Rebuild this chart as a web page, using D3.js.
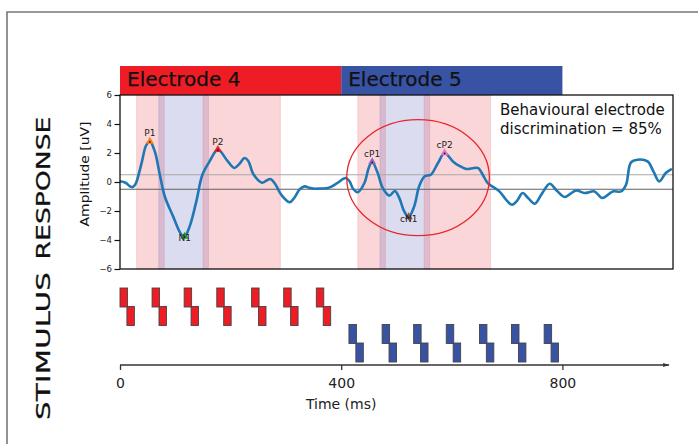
<!DOCTYPE html>
<html>
<head>
<meta charset="utf-8">
<script src="https://cdn.jsdelivr.net/npm/d3@7"></script>
<style>
  html, body { margin: 0; padding: 0; background: #fff; }
  svg { display: block; font-family: "DejaVu Sans", sans-serif; }
</style>
</head>
<body>
<svg id="chart" width="698" height="444"></svg>
<script>
// ---------- data ----------
const electrodes = ["Electrode 4", "Electrode 5"];
const electrodeStart = [0, 400];
const electrodeEnd = [400, 800];

const windowStart = [30, 70, 150, 430, 470, 550];
const windowEnd   = [80, 160, 290, 480, 560, 670];
const windowType  = ["P", "N", "P", "P", "N", "P"];

const waveTimes = [0, 10, 18, 23, 28, 39, 47, 54, 63, 72, 81, 96, 111, 117, 126, 138, 149, 162, 177, 195, 207, 216, 225, 232, 241, 257, 265, 272, 280, 292, 307, 315, 325, 334, 342, 350, 362, 376, 392, 408, 415, 422, 430, 442, 450, 456, 466, 475, 487, 497, 505, 514, 522, 532, 541, 551, 562, 575, 587, 602, 612, 626, 640, 648, 656, 665, 686, 700, 709, 718, 728, 738, 750, 763, 777, 790, 804, 815, 825, 840, 858, 872, 891, 906, 915, 924, 936, 954, 965, 975, 987, 998];
const waveAmps  = [0.05, -0.05, -0.3, -0.35, -0.15, 1.3, 2.5, 2.8, 2.1, 0.5, -1.0, -2.37, -3.63, -3.75, -3.06, -1.34, 0.5, 1.42, 2.23, 1.42, 0.97, 1.25, 1.65, 1.45, 0.55, -0.05, 0.1, 0.2, -0.1, -0.9, -1.4, -1.1, -0.5, -0.3, -0.4, -0.46, -0.45, -0.42, -0.1, 0.28, 0.05, -0.5, -0.7, -0.07, 1.0, 1.38, 0.62, -0.41, -0.94, -0.62, -1.1, -2.03, -2.41, -1.68, -0.3, 0.39, 0.5, 1.31, 2.0, 1.42, 1.15, 0.9, 0.97, 0.95, 0.5, -0.07, -0.65, -1.3, -1.57, -1.3, -0.76, -1.1, -1.5, -0.8, -0.12, -0.6, -1.03, -0.8, -0.58, -0.76, -0.65, -1.1, -0.65, -0.65, -0.2, 1.35, 1.54, 1.42, 0.7, 0.04, 0.62, 0.9];

const peakLabels = ["P1", "N1", "P2", "cP1", "cN1", "cP2"];
const peakTimes  = [54, 117, 177, 456, 522, 587];
const peakAmps   = [2.8, -3.75, 2.23, 1.38, -2.41, 2.0];
const peakColors = ["#ff7f0e", "#2ca02c", "#d62728", "#9467bd", "#8c564b", "#e377c2"];

const thresholds = [0.5, -0.5];

const stim4Times = [0, 58, 116, 175, 238, 296, 355];
const stim5Times = [414, 474, 531, 590, 650, 708, 767];

const yTicks = [-6, -4, -2, 0, 2, 4, 6];
const xTicks = [0, 400, 800];

const ellipseCenter = [539, 0.3];
const ellipseRadius = [129, 4.0];

const noteLines = ["Behavioural electrode", "discrimination = 85%"];

// ---------- layout ----------
const svg = d3.select("#chart");
const x = d3.scaleLinear().domain([0, 1000]).range([120, 673]);
const y = d3.scaleLinear().domain([-6, 6]).range([269, 95]);

// outer frame
svg.append("path")
  .attr("d", "M7,444 L7,12 L698,12")
  .attr("fill", "none").attr("stroke", "#777").attr("stroke-width", 1.6);

// electrode bars
const elecColors = ["#ee1c25", "#3953a4"];
electrodes.forEach((name, i) => {
  svg.append("rect")
    .attr("x", x(electrodeStart[i])).attr("y", 66)
    .attr("width", x(electrodeEnd[i]) - x(electrodeStart[i])).attr("height", 29)
    .attr("fill", elecColors[i]);
  svg.append("text")
    .attr("x", x(electrodeStart[i]) + 7).attr("y", 86)
    .attr("font-size", 20).attr("fill", "#111")
    .attr("stroke", "#111").attr("stroke-width", 0.25).text(name);
});

// windows
const plot = svg.append("g");
windowStart.forEach((s, i) => {
  const isN = windowType[i] === "N";
  plot.append("rect")
    .attr("x", x(s)).attr("y", y(6))
    .attr("width", x(windowEnd[i]) - x(s)).attr("height", y(-6) - y(6))
    .attr("fill", isN ? "rgb(60,60,170)" : "rgb(232,50,62)")
    .attr("fill-opacity", isN ? 0.18 : 0.2)
    .attr("stroke", isN ? "rgb(60,60,170)" : "rgb(232,50,62)")
    .attr("stroke-opacity", isN ? 0.12 : 0.15)
    .attr("stroke-width", 1);
});

// threshold lines
thresholds.forEach((t, i) => {
  plot.append("line")
    .attr("x1", x(0)).attr("x2", x(1000))
    .attr("y1", y(t)).attr("y2", y(t))
    .attr("stroke", i === 0 ? "#a8a8a8" : "#606060").attr("stroke-width", 1.2);
});

// waveform
const wave = waveTimes.map((t, i) => [t, waveAmps[i]]);
plot.append("path")
  .datum(wave)
  .attr("fill", "none").attr("stroke", "#1f77b4").attr("stroke-width", 2.6)
  .attr("stroke-linejoin", "round")
  .attr("d", d3.line().x(d => x(d[0])).y(d => y(d[1])).curve(d3.curveCatmullRom.alpha(0.5)));

// ellipse
plot.append("ellipse")
  .attr("cx", x(ellipseCenter[0])).attr("cy", y(ellipseCenter[1]))
  .attr("rx", x(ellipseCenter[0] + ellipseRadius[0]) - x(ellipseCenter[0]))
  .attr("ry", y(ellipseCenter[1] - ellipseRadius[1]) - y(ellipseCenter[1]))
  .attr("fill", "none").attr("stroke", "#e8262b").attr("stroke-width", 1.3);

// peaks
const tri = d3.symbol().type(d3.symbolTriangle).size(28);
peakLabels.forEach((lab, i) => {
  const px = x(peakTimes[i]), py = y(peakAmps[i]);
  plot.append("path").attr("d", tri()).attr("transform", `translate(${px},${py})`)
    .attr("fill", peakColors[i]);
  plot.append("circle").attr("cx", px).attr("cy", py + 0.5).attr("r", 0.9).attr("fill", "#222");
  const neg = peakAmps[i] < 0;
  plot.append("text")
    .attr("x", px).attr("y", neg ? py + 5 : py - 5)
    .attr("text-anchor", "middle").attr("font-size", 9).attr("fill", "#222")
    .text(lab);
});

// spines
svg.append("rect")
  .attr("x", x(0)).attr("y", y(6)).attr("width", x(1000) - x(0)).attr("height", y(-6) - y(6))
  .attr("fill", "none").attr("stroke", "#111").attr("stroke-width", 1.3);

// y axis
const yAxis = svg.append("g").attr("transform", `translate(${x(0)},0)`)
  .call(d3.axisLeft(y).tickValues(yTicks).tickSize(5.5).tickPadding(2.5));
yAxis.select(".domain").remove();
yAxis.selectAll(".tick line").attr("stroke", "#111").attr("stroke-width", 1.2);
yAxis.selectAll(".tick text").attr("font-size", 8.5).attr("fill", "#222")
  .attr("font-family", "DejaVu Sans");

// stretched vertical text helper (glyphs stretched along reading direction)
function verticalText(label, bx, cy, size, targetLen, sw) {
  const t = svg.append("text")
    .attr("text-anchor", "middle").attr("font-size", size).attr("fill", "#111")
    .attr("stroke", "#111").attr("stroke-width", sw)
    .text(label);
  const natural = t.node().getComputedTextLength();
  const s = targetLen / natural;
  t.attr("transform", `translate(${bx},${cy}) rotate(-90) scale(${s},1)`);
}
verticalText("Amplitude [uV]", 88.5, 174, 11.5, 105, 0);
verticalText("RESPONSE", 50, 188, 19, 143, 0.25);
verticalText("STIMULUS", 50, 346, 19, 148, 0.25);

// note text
noteLines.forEach((ln, i) => {
  svg.append("text").attr("x", 500).attr("y", 115 + i * 19)
    .attr("font-size", 15).attr("fill", "#111").text(ln);
});

// stimulus pulses
const stimW = 13.5;      // ms
const rectH = 19;
const rows = [{times: stim4Times, top: 288, color: "#ee1c25"},
              {times: stim5Times, top: 324.5, color: "#3953a4"}];
rows.forEach(r => {
  r.times.forEach(t => {
    svg.append("rect")
      .attr("x", x(t)).attr("y", r.top)
      .attr("width", x(t + stimW) - x(t)).attr("height", rectH)
      .attr("fill", r.color).attr("stroke", "#444").attr("stroke-width", 0.9);
    svg.append("rect")
      .attr("x", x(t + 12.5)).attr("y", r.top + rectH - 0.5)
      .attr("width", x(t + stimW) - x(t)).attr("height", rectH)
      .attr("fill", r.color).attr("stroke", "#444").attr("stroke-width", 0.9);
  });
});

// time axis with arrow
const axisY = 365;
svg.append("defs").append("marker")
  .attr("id", "arrow").attr("viewBox", "0 0 10 10").attr("refX", 10).attr("refY", 5)
  .attr("markerWidth", 10).attr("markerHeight", 6).attr("markerUnits", "userSpaceOnUse")
  .attr("orient", "auto")
  .append("path").attr("d", "M0,1.5 L10,5 L0,8.5 Z").attr("fill", "#333");
const xAxis = svg.append("g").attr("transform", `translate(0,${axisY})`)
  .call(d3.axisBottom(x).tickValues(xTicks).tickSize(5).tickPadding(8).tickFormat(d3.format("d")));
xAxis.select(".domain").remove();
xAxis.selectAll(".tick line").attr("stroke", "#333").attr("stroke-width", 1.3);
xAxis.selectAll(".tick text").attr("font-size", 14).attr("fill", "#222")
  .attr("font-family", "DejaVu Sans");
svg.append("line")
  .attr("x1", x(0)).attr("x2", x(993)).attr("y1", axisY).attr("y2", axisY)
  .attr("stroke", "#333").attr("stroke-width", 1.3).attr("marker-end", "url(#arrow)");
svg.append("text")
  .attr("x", x(400)).attr("y", 409).attr("text-anchor", "middle")
  .attr("font-size", 14).attr("fill", "#222").text("Time (ms)");
</script>
</body>
</html>
